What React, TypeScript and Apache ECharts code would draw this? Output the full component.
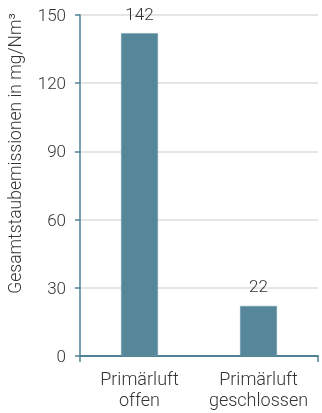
import React, { useEffect, useRef } from "react";
import * as echarts from "echarts";

const categories = ["Primärluft\noffen", "Primärluft\ngeschlossen"];
const values = [142, 22];
const yTicks = { min: 0, max: 150, interval: 30 };
const yAxisName = "Gesamtstaubemissionen in mg/Nm³";

export default function App() {
  const ref = useRef<HTMLDivElement>(null);
  useEffect(() => {
    if (!ref.current) return;
    const chart = echarts.init(ref.current, null, { renderer: "svg" });
    const axisColor = "#4f8194";
    const textColor = "#333";
    const font = "Roboto, 'Liberation Sans', sans-serif";
    chart.setOption({
      animation: false,
      grid: { left: 80, right: 4, top: 15, bottom: 57, containLabel: false, outerBoundsMode: "none" },
      xAxis: {
        type: "category",
        data: categories,
        axisLine: { lineStyle: { color: axisColor, width: 2 } },
        axisTick: {
          show: true,
          interval: (index: number) => index !== 1,
          length: 6,
          lineStyle: { color: axisColor, width: 1.5 },
        },
        axisLabel: { color: textColor, fontSize: 18, fontWeight: 300, lineHeight: 21, margin: 12, fontFamily: font, interval: 0 },
      },
      yAxis: {
        type: "value",
        min: yTicks.min,
        max: yTicks.max,
        interval: yTicks.interval,
        name: yAxisName,
        nameLocation: "middle",
        nameGap: 56,
        nameTextStyle: { color: textColor, fontSize: 17.5, fontWeight: 300, fontFamily: font, padding: [0, 0, 0, 64] },
        axisLine: { show: true, lineStyle: { color: axisColor, width: 1.5 } },
        axisTick: { show: true, length: 5, lineStyle: { color: axisColor, width: 1.5 } },
        axisLabel: { color: textColor, fontSize: 17, fontWeight: 300, margin: 14, fontFamily: font },
        splitLine: { lineStyle: { color: "#dcdcdc", width: 1.5 } },
      },
      series: [
        {
          type: "bar",
          data: values,
          barWidth: "31%",
          itemStyle: { color: "#55869a", borderColor: "#6e9aab", borderWidth: 0.5 },
          label: { show: true, position: "top", distance: 11, color: textColor, fontSize: 17, fontWeight: 300, fontFamily: font },
        },
      ],
    });
    return () => chart.dispose();
  }, []);
  return <div ref={ref} style={{ position: "fixed", left: 0, top: 0, width: 322, height: 413 }} />;
}
